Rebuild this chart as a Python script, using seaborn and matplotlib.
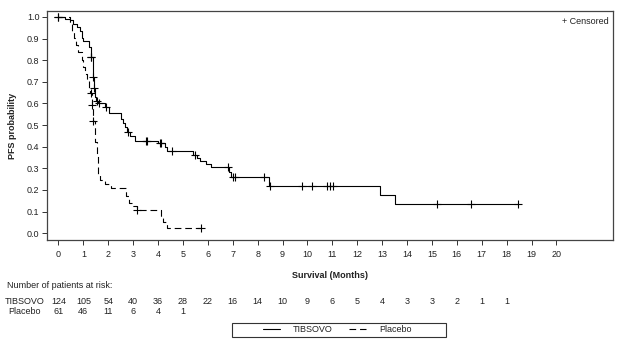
import numpy as np
import matplotlib
matplotlib.use("Agg")
import matplotlib.pyplot as plt
import seaborn as sns
from matplotlib.lines import Line2D
from matplotlib.patches import Rectangle
import matplotlib.transforms as mtransforms

# ---- data ----
tib_time = [0.00, 0.26, 0.45, 0.60, 0.75, 0.86, 0.93, 1.00, 1.24, 1.29, 1.37, 1.40, 1.44, 1.47,
            1.52, 1.60, 1.87, 2.04, 2.51, 2.58, 2.66, 2.76, 2.86, 3.07, 4.01, 4.28, 4.34, 5.41,
            5.55, 5.68, 5.92, 6.11, 6.86, 6.95, 8.47, 12.93, 13.50]
tib_surv = [1.000, 0.992, 0.984, 0.968, 0.952, 0.935, 0.903, 0.887, 0.863, 0.815, 0.760, 0.720,
            0.670, 0.630, 0.612, 0.600, 0.585, 0.556, 0.530, 0.510, 0.490, 0.470, 0.450, 0.426,
            0.418, 0.400, 0.378, 0.362, 0.348, 0.335, 0.320, 0.307, 0.282, 0.260, 0.220, 0.177,
            0.133]
tib_cens = [0.00, 1.29, 1.31, 1.40, 1.44, 1.53, 1.64, 1.90, 2.78, 3.51, 3.56, 4.07, 4.13, 4.55,
            5.48, 6.82, 7.02, 7.11, 8.27, 8.50, 9.77, 10.17, 10.79, 10.92, 11.03, 15.21, 16.58,
            18.46]

pla_time = [0.00, 0.46, 0.55, 0.62, 0.70, 0.80, 0.93, 1.00, 1.08, 1.15, 1.22, 1.27, 1.35, 1.38,
            1.45, 1.53, 1.60, 1.67, 1.87, 2.11, 2.71, 2.84, 3.01, 3.14, 4.11, 4.21, 4.34]
pla_surv = [1.000, 0.967, 0.934, 0.902, 0.869, 0.836, 0.803, 0.770, 0.738, 0.705, 0.672, 0.650,
            0.595, 0.520, 0.420, 0.360, 0.270, 0.245, 0.228, 0.210, 0.170, 0.140, 0.125, 0.105,
            0.070, 0.050, 0.025]
pla_cens = [0.00, 1.31, 1.36, 1.40, 3.16, 5.71]

risk_months_tib = list(range(0, 19))
risk_tib = [124, 105, 54, 40, 36, 28, 22, 16, 14, 10, 9, 6, 5, 4, 3, 3, 2, 1, 1]
risk_months_pla = list(range(0, 6))
risk_pla = [61, 46, 11, 6, 4, 1]

x_ticks = list(range(0, 21))
y_ticks = [round(0.1 * i, 1) for i in range(11)]

# ---- style ----
sns.set_theme(style="white")
plt.rcParams['font.family'] = ['Liberation Sans', 'DejaVu Sans']
FS = 6.5
TXT = '#222222'

fig = plt.figure(figsize=(6.24, 3.52), dpi=100)
ax = fig.add_axes([0.0753, 0.318, 0.9066, 0.651])


def surv_at(times, survs, t):
    idx = np.searchsorted(np.asarray(times), t, side='right') - 1
    return np.asarray(survs)[idx]


def extend(times, survs, cens):
    end = max(max(cens), times[-1])
    return list(times) + [end], list(survs) + [survs[-1]]


tx, ty = extend(tib_time, tib_surv, tib_cens)
px, py = extend(pla_time, pla_surv, pla_cens)
DASH = (0, (6, 3.5))

sns.lineplot(x=tx, y=ty, drawstyle='steps-post', estimator=None, sort=False,
             color='black', lw=0.8, ax=ax)
sns.lineplot(x=px, y=py, drawstyle='steps-post', estimator=None, sort=False,
             color='black', lw=0.8, linestyle=DASH, ax=ax)

sns.scatterplot(x=tib_cens, y=surv_at(tib_time, tib_surv, tib_cens), marker='+',
                s=28, color='black', linewidth=0.8, ax=ax, zorder=3)
sns.scatterplot(x=pla_cens, y=surv_at(pla_time, pla_surv, pla_cens), marker='+',
                s=28, color='black', linewidth=0.8, ax=ax, zorder=3)

ax.set_xlim(-0.46, 22.26)
ax.set_ylim(-0.032, 1.028)
ax.set_xticks(x_ticks)
ax.set_xticklabels([str(v) for v in x_ticks], fontsize=FS, color=TXT)
ax.set_yticks(y_ticks)
ax.set_yticklabels([f"{v:.1f}" for v in y_ticks], fontsize=FS, color=TXT)
ax.tick_params(axis='both', which='major', direction='out', length=3.5, width=0.7,
               color='#333333', bottom=True, left=True, top=False, right=False, pad=2)
ax.tick_params(axis='x', pad=4)
for s in ax.spines.values():
    s.set_visible(True)
    s.set_color('#444444')
    s.set_linewidth(0.9)

ax.set_xlabel('Survival (Months)', fontsize=FS, fontweight='bold', labelpad=8, color=TXT)
ax.set_ylabel('PFS probability', fontsize=FS, fontweight='bold', labelpad=7, color=TXT)

ax.text(0.993, 0.975, '+ Censored', transform=ax.transAxes, ha='right', va='top',
        fontsize=FS, color=TXT)

# ---- number at risk ----
trans = mtransforms.blended_transform_factory(ax.transData, fig.transFigure)
fig.text(0.011, 1 - 285 / 352, 'Number of patients at risk:', fontsize=FS, va='center',
         ha='left', color=TXT)
y_tib = 1 - 301 / 352
y_pla = 1 - 312 / 352
fig.text(24.5 / 624, y_tib, 'TIBSOVO', fontsize=FS, va='center', ha='center', color=TXT)
fig.text(24.5 / 624, y_pla, 'Placebo', fontsize=FS, va='center', ha='center', color=TXT)
for m, n in zip(risk_months_tib, risk_tib):
    ax.text(m, y_tib, str(n), transform=trans, fontsize=FS, ha='center', va='center', color=TXT)
for m, n in zip(risk_months_pla, risk_pla):
    ax.text(m, y_pla, str(n), transform=trans, fontsize=FS, ha='center', va='center', color=TXT)

# ---- legend ----
handles = [Line2D([], [], color='black', lw=0.8),
           Line2D([], [], color='black', lw=0.8, linestyle=DASH)]
leg = fig.legend(handles, ['TIBSOVO', 'Placebo'], loc='center', ncol=2,
                 bbox_to_anchor=(337 / 624, 1 - 330 / 352), frameon=False, fontsize=FS,
                 handlelength=1.9, handletextpad=1.4, columnspacing=1.9, borderpad=0,
                 borderaxespad=0)
for t in leg.get_texts():
    t.set_color(TXT)
fig.patches.append(Rectangle((232 / 624, 1 - 337 / 352), 214 / 624, 14 / 352,
                             transform=fig.transFigure, fill=False, edgecolor='#333333',
                             linewidth=0.8, figure=fig))

fig.savefig('out.png', dpi=100)
